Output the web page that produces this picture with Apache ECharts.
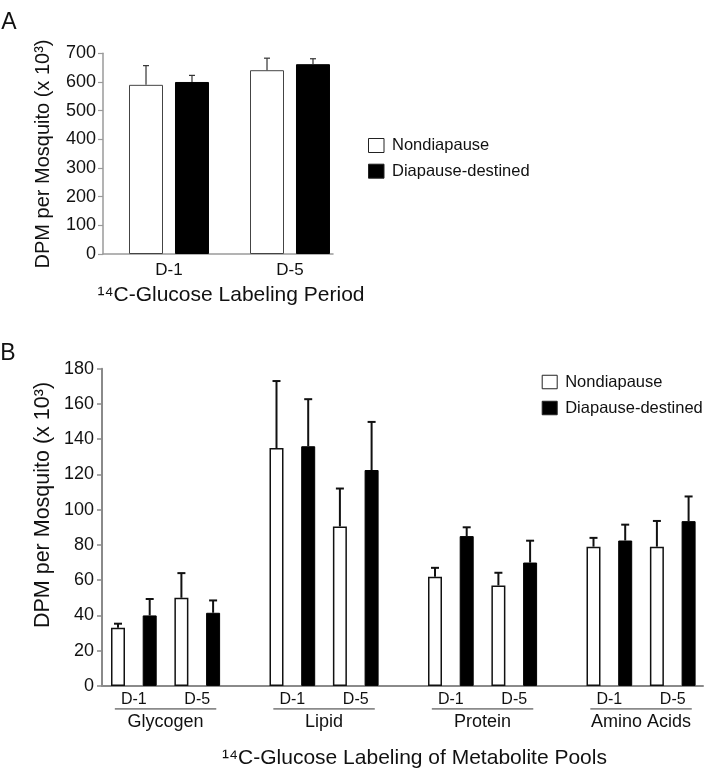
<!DOCTYPE html>
<html>
<head>
<meta charset="utf-8">
<script src="https://cdn.jsdelivr.net/npm/echarts@6/dist/echarts.min.js"></script>
<style>
html,body{margin:0;padding:0;background:#fff;}
#chart{width:720px;height:776px;}
</style>
</head>
<body>
<div id="chart"></div>
<script>
// ---------- Data ----------
const seriesNames = ['Nondiapause', 'Diapause-destined'];
const periods = ['D-1', 'D-5'];

// Panel A: total label per mosquito
const nonA = [590, 641];
const nonErrA = [67, 42];
const diaA = [600, 662];
const diaErrA = [23, 19];
const yTicksA = { min: 0, max: 700, interval: 100 };

// Panel B: metabolite pools (group-major: Glycogen D-1, Glycogen D-5, Lipid D-1, ...)
const groupsB = ['Glycogen', 'Lipid', 'Protein', 'Amino Acids'];
const nonB = [33, 50, 135, 90.5, 62, 57, 79, 79];
const nonErrB = [2.3, 14, 38, 21.5, 5, 7.2, 5, 14.6];
const diaB = [40, 41.5, 136, 122.5, 85, 70, 82.5, 93.5];
const diaErrB = [9.3, 7, 26.7, 27.3, 5, 12.4, 9, 14];
const yTicksB = { min: 0, max: 180, interval: 20 };

// ---------- Layout helpers ----------
const FONT = '"Liberation Sans", Arial, Helvetica, sans-serif';
const TXT = '#111';
// Panel A: period i at value i, series offset in period units
const offA = [-0.19, 0.19];
const posA = (i, s) => i + offA[s];
// Panel B: each bar is one slot; group = 5 slots, period = 2 slots
const posB = (k, s) => Math.floor(k / 2) * 5 + (k % 2) * 2 + s;

const labelValsB = [];
const labelMapB = {};
groupsB.forEach((g, gi) => periods.forEach((p, pi) => {
  const v = gi * 5 + pi * 2 + 0.5;
  labelValsB.push(v);
  labelMapB[Math.round(v * 2)] = p;
}));
const groupValsB = groupsB.map((g, gi) => gi * 5 + 1.5);
const groupMapB = {};
groupsB.forEach((g, gi) => { groupMapB[Math.round((gi * 5 + 1.5) * 2)] = g; });

function errRender(capHalf, lw, color) {
  return function (params, api) {
    const x = api.value(0), y = api.value(1), e = api.value(2);
    const p0 = api.coord([x, y]);
    const p1 = api.coord([x, y + e]);
    return {
      type: 'group',
      children: [
        { type: 'line', shape: { x1: p0[0], y1: p0[1], x2: p1[0], y2: p1[1] }, style: { stroke: color, lineWidth: lw } },
        { type: 'line', shape: { x1: p1[0] - capHalf, y1: p1[1], x2: p1[0] + capHalf, y2: p1[1] }, style: { stroke: color, lineWidth: lw } }
      ]
    };
  };
}

const axisLineA = { show: true, onZero: false, lineStyle: { color: '#9a9a9a', width: 1.5 } };
const axisLineB = { show: true, onZero: false, lineStyle: { color: '#8a8a8a', width: 2 } };

const option = {
  animation: false,
  backgroundColor: '#fff',
  grid: [
    { left: 103, top: 53.3, width: 230, height: 200.7 },
    { left: 102, top: 368.7, width: 601, height: 317.2 }
  ],
  xAxis: [
    {
      gridIndex: 0, type: 'value', min: -66 / 121, max: 164 / 121,
      axisLine: axisLineA, axisTick: { show: false }, splitLine: { show: false },
      axisLabel: {
        customValues: [0, 1], formatter: v => periods[Math.round(v)],
        fontSize: 17, fontFamily: FONT, color: TXT, margin: 7.5
      }
    },
    {
      gridIndex: 1, type: 'value', min: -16 / 31.7, max: 585 / 31.7, position: 'bottom',
      axisLine: axisLineB, axisTick: { show: false }, splitLine: { show: false },
      axisLabel: {
        customValues: labelValsB, formatter: v => labelMapB[Math.round(v * 2)],
        fontSize: 16, fontFamily: FONT, color: TXT, margin: 6
      }
    },
    {
      gridIndex: 1, type: 'value', min: -16 / 31.7, max: 585 / 31.7, position: 'bottom', offset: 0,
      axisLine: { show: false }, axisTick: { show: false }, splitLine: { show: false },
      axisLabel: {
        customValues: groupValsB, formatter: v => groupMapB[Math.round(v * 2)],
        fontSize: 18, fontFamily: FONT, color: TXT, margin: 27
      }
    }
  ],
  yAxis: [
    {
      gridIndex: 0, type: 'value', min: yTicksA.min, max: yTicksA.max, interval: yTicksA.interval,
      axisLine: axisLineA, axisTick: { show: true, length: 5, lineStyle: { color: '#9a9a9a', width: 1.2 } },
      splitLine: { show: false },
      axisLabel: { fontSize: 18, fontFamily: FONT, color: TXT, margin: 7 }
    },
    {
      gridIndex: 1, type: 'value', min: yTicksB.min, max: yTicksB.max, interval: yTicksB.interval,
      axisLine: axisLineB, axisTick: { show: true, length: 5, lineStyle: { color: '#8a8a8a', width: 1.5 } },
      splitLine: { show: false },
      axisLabel: { fontSize: 18, fontFamily: FONT, color: TXT, margin: 8 }
    }
  ],
  legend: [
    {
      orient: 'vertical', left: 363, top: 130.5, itemGap: 5.7, itemWidth: 15.5, itemHeight: 14,
      icon: 'rect', selectedMode: false, data: seriesNames,
      itemStyle: { borderColor: '#222', borderWidth: 1 },
      textStyle: { fontSize: 16.5, fontFamily: FONT, color: TXT, lineHeight: 20, padding: [0, 0, 0, 3] }
    },
    {
      orient: 'vertical', left: 536.7, top: 367, itemGap: 6, itemWidth: 15, itemHeight: 13.5,
      icon: 'rect', selectedMode: false, data: seriesNames,
      itemStyle: { borderColor: '#222', borderWidth: 1 },
      textStyle: { fontSize: 16.5, fontFamily: FONT, color: TXT, lineHeight: 20, padding: [0, 0, 0, 3] }
    }
  ],
  series: [
    {
      type: 'bar', name: seriesNames[0], xAxisIndex: 0, yAxisIndex: 0,
      data: nonA.map((v, i) => [posA(i, 0), v]), barWidth: 34, barGap: '-100%',
      itemStyle: { color: '#fff', borderColor: '#444', borderWidth: 1 }
    },
    {
      type: 'bar', name: seriesNames[1], xAxisIndex: 0, yAxisIndex: 0,
      data: diaA.map((v, i) => [posA(i, 1), v]), barWidth: 34, barGap: '-100%',
      itemStyle: { color: '#000', borderColor: '#000', borderWidth: 1 }
    },
    {
      type: 'custom', name: 'errA0', xAxisIndex: 0, yAxisIndex: 0, z: 5,
      data: nonA.map((v, i) => [posA(i, 0), v, nonErrA[i]]), encode: { x: 0, y: 1 },
      renderItem: errRender(3, 1.2, '#333')
    },
    {
      type: 'custom', name: 'errA1', xAxisIndex: 0, yAxisIndex: 0, z: 5,
      data: diaA.map((v, i) => [posA(i, 1), v, diaErrA[i]]), encode: { x: 0, y: 1 },
      renderItem: errRender(3, 1.2, '#333')
    },
    {
      type: 'bar', name: seriesNames[0], xAxisIndex: 1, yAxisIndex: 1,
      data: nonB.map((v, k) => [posB(k, 0), v]), barWidth: 14, barGap: '-100%',
      itemStyle: { color: '#fff', borderColor: '#111', borderWidth: 1.5 }
    },
    {
      type: 'bar', name: seriesNames[1], xAxisIndex: 1, yAxisIndex: 1,
      data: diaB.map((v, k) => [posB(k, 1), v]), barWidth: 14, barGap: '-100%',
      itemStyle: { color: '#000', borderColor: '#000', borderWidth: 1 }
    },
    {
      type: 'custom', name: 'errB0', xAxisIndex: 1, yAxisIndex: 1, z: 5,
      data: nonB.map((v, k) => [posB(k, 0), v, nonErrB[k]]), encode: { x: 0, y: 1 },
      renderItem: errRender(4, 2, '#111')
    },
    {
      type: 'custom', name: 'errB1', xAxisIndex: 1, yAxisIndex: 1, z: 5,
      data: diaB.map((v, k) => [posB(k, 1), v, diaErrB[k]]), encode: { x: 0, y: 1 },
      renderItem: errRender(4, 2, '#111')
    },
    {
      // group underlines below the period labels
      type: 'custom', name: 'underline', xAxisIndex: 1, yAxisIndex: 1, clip: false, silent: true,
      data: groupsB.map((g, gi) => [gi * 5 - 0.1, gi * 5 + 3.1]), encode: { x: [0, 1] },
      renderItem: function (params, api) {
        const a = api.coord([api.value(0), 0]);
        const b = api.coord([api.value(1), 0]);
        const y = a[1] + 23;
        return { type: 'line', shape: { x1: a[0], y1: y, x2: b[0], y2: y }, style: { stroke: '#8a8a8a', lineWidth: 1.8 } };
      }
    }
  ],
  graphic: [
    { type: 'text', x: 9, y: 23, style: { text: 'A', font: '23px ' + FONT, fill: TXT, textAlign: 'center', textVerticalAlign: 'middle' } },
    { type: 'text', x: 8, y: 354, style: { text: 'B', font: '23px ' + FONT, fill: TXT, textAlign: 'center', textVerticalAlign: 'middle' } },
    { type: 'text', x: 43, y: 154, rotation: Math.PI / 2, style: { text: 'DPM per Mosquito (x 10³)', font: '20px ' + FONT, fill: TXT, textAlign: 'center', textVerticalAlign: 'middle' } },
    { type: 'text', x: 43, y: 505, rotation: Math.PI / 2, style: { text: 'DPM per Mosquito (x 10³)', font: '21.5px ' + FONT, fill: TXT, textAlign: 'center', textVerticalAlign: 'middle' } },
    { type: 'text', x: 231, y: 295, style: { text: '¹⁴C-Glucose Labeling Period', font: '21px ' + FONT, fill: TXT, textAlign: 'center', textVerticalAlign: 'middle' } },
    { type: 'text', x: 414.5, y: 758, style: { text: '¹⁴C-Glucose Labeling of Metabolite Pools', font: '21px ' + FONT, fill: TXT, textAlign: 'center', textVerticalAlign: 'middle' } }
  ]
};

const chart = echarts.init(document.getElementById('chart'), null, { renderer: 'canvas' });
chart.setOption(option);
</script>
</body>
</html>
